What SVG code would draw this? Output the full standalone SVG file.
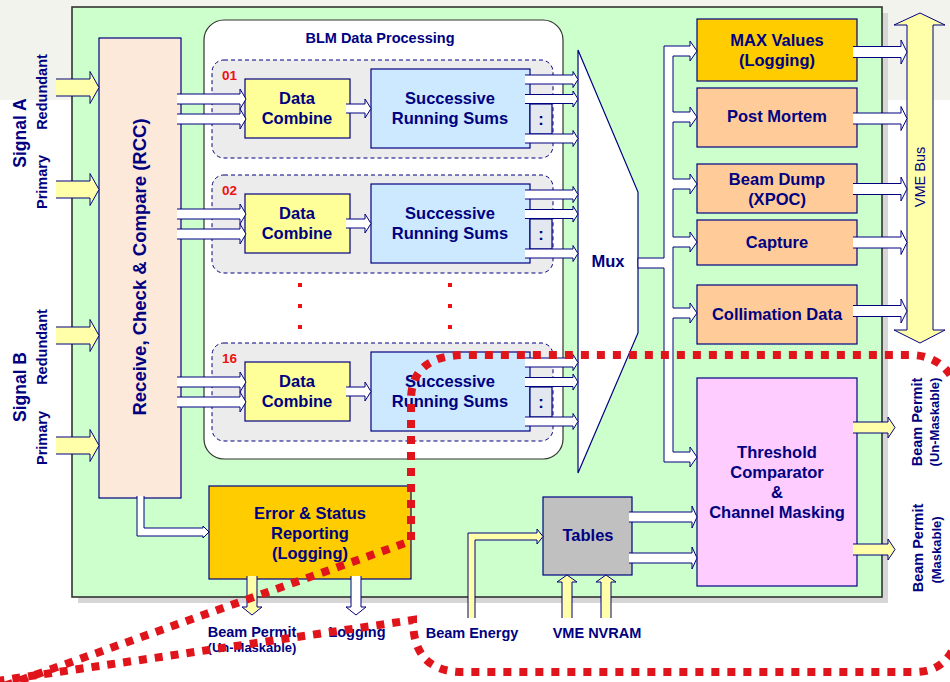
<svg xmlns="http://www.w3.org/2000/svg" width="950" height="682" viewBox="0 0 950 682">
<style>
.t{font-family:"Liberation Sans",Arial,sans-serif;font-weight:bold;fill:#000080;text-anchor:middle}
.tn{font-family:"Liberation Sans",Arial,sans-serif;fill:#000080;text-anchor:middle}
.b16{font-size:16.5px}
.b14{font-size:14.5px}
.b13{font-size:13px}
.num{font-family:"Liberation Sans",Arial,sans-serif;font-weight:bold;fill:#ee1111;font-size:13.5px}
.box{stroke:#000080;stroke-width:1.2}
.wa{fill:#ffffff;stroke:#000080;stroke-width:1}
.ya{fill:#ffffaa;stroke:#000080;stroke-width:1}
.grp{fill:#ececec;stroke:#000080;stroke-width:1;stroke-dasharray:4 3}
</style>
<rect x="0" y="0" width="950" height="682" fill="#ffffff"/>
<rect x="0" y="0" width="950" height="100" fill="#f3f3ee"/>
<!-- board -->
<g id="board">
<rect x="78" y="13" width="810" height="590" fill="#d6d6d6"/>
<rect x="72" y="7" width="810" height="590" fill="#ccffcc" stroke="#333333" stroke-width="1.6"/>
</g>
<!-- signal labels -->
<g id="signal-labels">
<text class="t" style="font-size:17.5px" transform="translate(26,133) rotate(-90)">Signal A</text>
<text class="t b14" transform="translate(46.5,92) rotate(-90)">Redundant</text>
<text class="t b14" transform="translate(46.5,182) rotate(-90)">Primary</text>
<text class="t" style="font-size:17.5px" transform="translate(26,387) rotate(-90)">Signal B</text>
<text class="t b14" transform="translate(46.5,347) rotate(-90)">Redundant</text>
<text class="t b14" transform="translate(46.5,438) rotate(-90)">Primary</text>
</g>
<!-- RCC -->
<g id="rcc">
<rect class="box" x="99" y="38" width="82" height="460" fill="#fde9d9"/>
<text class="t" style="font-size:18.5px" transform="translate(146,267) rotate(-90)">Receive, Check &amp; Compare (RCC)</text>
</g>
<!-- BLM processing -->
<g id="blm-processing">
<rect x="204" y="20" width="359" height="439" rx="20" fill="#ffffff" stroke="#333333" stroke-width="1.2"/>
<text class="t b14" x="380" y="43">BLM Data Processing</text>
<line x1="300" y1="283" x2="300" y2="330" stroke="#ee1111" stroke-width="4" stroke-dasharray="4 17"/>
<line x1="450" y1="283" x2="450" y2="330" stroke="#ee1111" stroke-width="4" stroke-dasharray="4 17"/>
</g>
<g id="channel-01">
<rect class="grp" x="212" y="60" width="341" height="98" rx="12"/>
<text class="num" x="222" y="80">01</text>
<rect class="box" x="245" y="79" width="105" height="59" fill="#ffff99"/>
<text class="t b16" x="297" y="104">Data</text>
<text class="t b16" x="297" y="124">Combine</text>
<rect class="box" x="371" y="69" width="159" height="79" fill="#cce9ff"/>
<text class="t b16" x="450" y="104">Successive</text>
<text class="t b16" x="450" y="124">Running Sums</text>
<rect class="box" x="530" y="104" width="22" height="30" fill="#e3e8f0"/>
<text class="t b16" x="541" y="125">:</text>
</g>
<g id="channel-02" transform="translate(0,115)">
<rect class="grp" x="212" y="60" width="341" height="98" rx="12"/>
<text class="num" x="222" y="80">02</text>
<rect class="box" x="245" y="79" width="105" height="59" fill="#ffff99"/>
<text class="t b16" x="297" y="104">Data</text>
<text class="t b16" x="297" y="124">Combine</text>
<rect class="box" x="371" y="69" width="159" height="79" fill="#cce9ff"/>
<text class="t b16" x="450" y="104">Successive</text>
<text class="t b16" x="450" y="124">Running Sums</text>
<rect class="box" x="530" y="104" width="22" height="30" fill="#e3e8f0"/>
<text class="t b16" x="541" y="125">:</text>
</g>
<g id="channel-16" transform="translate(0,283)">
<rect class="grp" x="212" y="60" width="341" height="98" rx="12"/>
<text class="num" x="222" y="80">16</text>
<rect class="box" x="245" y="79" width="105" height="59" fill="#ffff99"/>
<text class="t b16" x="297" y="104">Data</text>
<text class="t b16" x="297" y="124">Combine</text>
<rect class="box" x="371" y="69" width="159" height="79" fill="#cce9ff"/>
<text class="t b16" x="450" y="104">Successive</text>
<text class="t b16" x="450" y="124">Running Sums</text>
<rect class="box" x="530" y="104" width="22" height="30" fill="#e3e8f0"/>
<text class="t b16" x="541" y="125">:</text>
</g>
<!-- Mux -->
<g id="mux">
<polygon points="578,50 638,192 638,333 578,473" fill="#ffffff" stroke="#000080" stroke-width="1.2"/>
<text class="t b16" x="608" y="267">Mux</text>
</g>
<!-- right boxes -->
<g id="max-values">
<rect class="box" x="697" y="19" width="160" height="62" fill="#ffcc00"/>
<text class="t b16" x="777" y="46">MAX Values</text>
<text class="t b16" x="777" y="66">(Logging)</text>
</g>
<g id="post-mortem">
<rect class="box" x="697" y="88" width="160" height="59" fill="#ffcc99"/>
<text class="t b16" x="777" y="122">Post Mortem</text>
</g>
<g id="beam-dump">
<rect class="box" x="697" y="164" width="160" height="49" fill="#ffcc99"/>
<text class="t b16" x="777" y="185">Beam Dump</text>
<text class="t b16" x="777" y="205">(XPOC)</text>
</g>
<g id="capture">
<rect class="box" x="697" y="220" width="160" height="45" fill="#ffcc99"/>
<text class="t b16" x="777" y="248">Capture</text>
</g>
<g id="collimation">
<rect class="box" x="697" y="285" width="160" height="59" fill="#ffcc99"/>
<text class="t b16" x="777" y="320">Collimation Data</text>
</g>
<g id="threshold">
<rect class="box" x="697" y="378" width="160" height="208" fill="#ffccff"/>
<text class="t b16" x="777" y="458">Threshold</text>
<text class="t b16" x="777" y="478">Comparator</text>
<text class="t b16" x="777" y="498">&amp;</text>
<text class="t b16" x="777" y="518">Channel Masking</text>
</g>
<g id="error-status">
<rect class="box" x="209" y="486" width="202" height="93" fill="#ffcc00"/>
<text class="t b16" x="310" y="519">Error &amp; Status</text>
<text class="t b16" x="310" y="539">Reporting</text>
<text class="t b16" x="310" y="559">(Logging)</text>
</g>
<g id="tables">
<rect class="box" x="543" y="497" width="89" height="78" fill="#c0c0c0"/>
<text class="t b16" x="588" y="541">Tables</text>
</g>
<g id="vme-bus">
<path d="M920,13 L945,25 L933,25 L933,330 L945,330 L920,343 L894,330 L907,330 L907,25 L894,25 Z" class="ya"/>
<text class="tn" style="font-size:14.5px" transform="translate(925,177) rotate(-90)">VME Bus</text>
</g>
<!-- connectors -->
<g id="connectors">
<!-- inputs -->
<path class="ya" d="M56,79 L90,79 L90,71.5 L99,87.5 L90,103.5 L90,96 L56,96"/>
<path class="ya" d="M56,181 L90,181 L90,173.5 L99,189.5 L90,205.5 L90,198 L56,198"/>
<path class="ya" d="M56,327 L90,327 L90,319.5 L99,335.5 L90,351.5 L90,344 L56,344"/>
<path class="ya" d="M56,437 L90,437 L90,429.5 L99,445.5 L90,461.5 L90,454 L56,454"/>
<!-- channel arrows -->
<g id="ch01-arrows">
<path class="wa" d="M177,94 L240,94 L240,89 L246,99 L240,109 L240,104 L177,104"/>
<path class="wa" d="M177,114 L240,114 L240,109 L246,119 L240,129 L240,124 L177,124"/>
<path class="wa" d="M346,104 L365,104 L365,99 L371,108.5 L365,118 L365,113 L346,113"/>
<path class="wa" d="M525,75 L573,75 L573,71.5 L578,79.5 L573,87.5 L573,84 L525,84"/>
<path class="wa" d="M525,94.5 L573,94.5 L573,91 L578,99 L573,107 L573,103.5 L525,103.5"/>
<path class="wa" d="M525,134 L573,134 L573,130.5 L578,138.5 L573,146.5 L573,143 L525,143"/>
</g>
<g id="ch02-arrows" transform="translate(0,115)">
<path class="wa" d="M177,94 L240,94 L240,89 L246,99 L240,109 L240,104 L177,104"/>
<path class="wa" d="M177,114 L240,114 L240,109 L246,119 L240,129 L240,124 L177,124"/>
<path class="wa" d="M346,104 L365,104 L365,99 L371,108.5 L365,118 L365,113 L346,113"/>
<path class="wa" d="M525,75 L573,75 L573,71.5 L578,79.5 L573,87.5 L573,84 L525,84"/>
<path class="wa" d="M525,94.5 L573,94.5 L573,91 L578,99 L573,107 L573,103.5 L525,103.5"/>
<path class="wa" d="M525,134 L573,134 L573,130.5 L578,138.5 L573,146.5 L573,143 L525,143"/>
</g>
<g id="ch16-arrows" transform="translate(0,283)">
<path class="wa" d="M177,94 L240,94 L240,89 L246,99 L240,109 L240,104 L177,104"/>
<path class="wa" d="M177,114 L240,114 L240,109 L246,119 L240,129 L240,124 L177,124"/>
<path class="wa" d="M346,104 L365,104 L365,99 L371,108.5 L365,118 L365,113 L346,113"/>
<path class="wa" d="M525,75 L573,75 L573,71.5 L578,79.5 L573,87.5 L573,84 L525,84"/>
<path class="wa" d="M525,94.5 L573,94.5 L573,91 L578,99 L573,107 L573,103.5 L525,103.5"/>
<path class="wa" d="M525,134 L573,134 L573,130.5 L578,138.5 L573,146.5 L573,143 L525,143"/>
</g>
<!-- mux distribution bus -->
<path class="wa" d="M664,46 L690,46 L690,41 L697,51 L690,61 L690,56 L673,56 L673,112 L690,112 L690,107 L697,117 L690,127 L690,122 L673,122 L673,179 L690,179 L690,174 L697,184 L690,194 L690,189 L673,189 L673,237 L690,237 L690,232 L697,242 L690,252 L690,247 L673,247 L673,308 L690,308 L690,303 L697,313 L690,323 L690,318 L673,318 L673,452 L690,452 L690,447 L697,457 L690,467 L690,462 L664,462 L664,268 L638,268 L638,258 L664,258 Z"/>
<!-- to VME bus -->
<path class="wa" d="M853,46.5 L901,46.5 L901,40 L907,52 L901,64 L901,57.5 L853,57.5"/>
<path class="wa" d="M853,113 L901,113 L901,106.5 L907,118.5 L901,130.5 L901,124 L853,124"/>
<path class="wa" d="M853,183.5 L901,183.5 L901,177 L907,189 L901,201 L901,194.5 L853,194.5"/>
<path class="wa" d="M853,237 L901,237 L901,230.5 L907,242.5 L901,254.5 L901,248 L853,248"/>
<path class="wa" d="M853,305.5 L901,305.5 L901,299 L907,311 L901,323 L901,316.5 L853,316.5"/>
<!-- tables to threshold -->
<path class="wa" d="M629,512 L692,512 L692,506 L697,517 L692,528 L692,522 L629,522"/>
<path class="wa" d="M629,553 L692,553 L692,547 L697,558 L692,569 L692,563 L629,563"/>
<!-- threshold outputs -->
<path class="ya" d="M853,422 L888,422 L888,417 L895,427.5 L888,438 L888,433 L853,433"/>
<path class="ya" d="M853,544 L888,544 L888,539 L895,549.5 L888,560 L888,555 L853,555"/>
<!-- RCC to error -->
<path class="wa" d="M137,496 L137,536 L203,536 L203,538 L209,532 L203,526 L203,528 L144,528 L144,496"/>
<!-- error outputs -->
<path class="ya" d="M247,576 L247,607 L242,607 L252,615 L262,607 L257,607 L257,576"/>
<path class="wa" d="M351,576 L351,607 L346,607 L356,615 L366,607 L361,607 L361,576"/>
<!-- beam energy -->
<path class="ya" d="M468,618 L468,533 L537,533 L537,529 L543,536.5 L537,544 L537,540 L475,540 L475,618"/>
<!-- VME NVRAM -->
<path class="ya" d="M562,618 L562,582 L557,582 L567,575 L577,582 L572,582 L572,618"/>
<path class="ya" d="M601,618 L601,582 L596,582 L606,575 L616,582 L611,582 L611,618"/>
</g>
<!-- external labels -->
<g id="labels">
<text class="t b14" x="252" y="637">Beam Permit</text>
<text class="t b13" x="252" y="652">(Un-Maskable)</text>
<text class="t b14" x="357" y="637">Logging</text>
<text class="t b14" x="472" y="638">Beam Energy</text>
<text class="t b14" x="597" y="638">VME NVRAM</text>
<text class="t b14" transform="translate(922,422) rotate(-90)">Beam Permit</text>
<text class="t b13" transform="translate(939,422) rotate(-90)">(Un-Maskable)</text>
<text class="t b14" transform="translate(923,548) rotate(-90)">Beam Permit</text>
<text class="t b13" transform="translate(941,550) rotate(-90)">(Maskable)</text>
</g>
<!-- red dotted annotation -->
<g id="annotation">
<path d="M-10,691 L411,541 L411,400 Q411,355 466,355 L913,355 Q960,358 962,420 L962,600 Q962,672 915,672 L463,672 Q413,672 413,620 L-10,682" fill="none" stroke="#e0141b" stroke-width="8" stroke-dasharray="8 8"/>
</g>
</svg>
